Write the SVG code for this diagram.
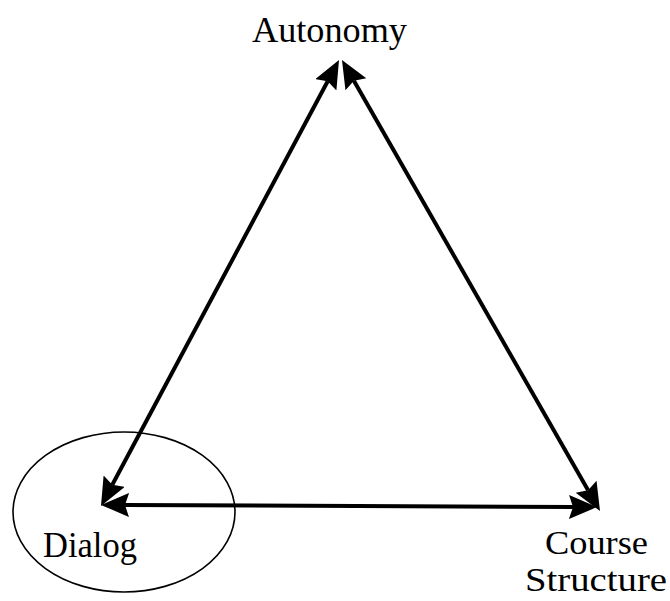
<svg xmlns="http://www.w3.org/2000/svg" width="670" height="601" viewBox="0 0 670 601">
  <style>
    .lbl { font-family: "Liberation Serif", "DejaVu Serif", serif; font-size: 36px; fill: #000; }
    .lbl2 { font-family: "Liberation Serif", "DejaVu Serif", serif; font-size: 34px; fill: #000; }
    .conn { stroke: #000; stroke-width: 4; fill: none; marker-start: url(#ah); marker-end: url(#ah); }
    .oval { fill: none; stroke: #000; stroke-width: 1.6; }
  </style>
  <defs>
    <marker id="ah" markerUnits="userSpaceOnUse" markerWidth="30" markerHeight="26" viewBox="0 0 30 26" refX="4" refY="12" orient="auto-start-reverse">
      <path d="M0,0 L28,12 L0,24 L4,12 z" fill="#000"/>
    </marker>
  </defs>
  <rect width="670" height="601" fill="#fff"/>
  <g id="dialog-oval">
    <ellipse class="oval" cx="124" cy="512" rx="111" ry="80"/>
  </g>
  <g id="connectors">
    <path class="conn" d="M327.7,81.2 L112.3,484.8"/>
    <path class="conn" d="M353.9,80.8 L588.1,490.2"/>
    <path class="conn" d="M125,505 L573,507"/>
  </g>
  <g id="autonomy">
    <text class="lbl" x="252" y="42" textLength="155" lengthAdjust="spacingAndGlyphs">Autonomy</text>
  </g>
  <g id="dialog">
    <text class="lbl" x="43" y="557" textLength="94" lengthAdjust="spacingAndGlyphs">Dialog</text>
  </g>
  <g id="course-structure">
    <text class="lbl2" x="545" y="554" textLength="103" lengthAdjust="spacingAndGlyphs">Course</text>
    <text class="lbl2" x="525" y="591" textLength="142" lengthAdjust="spacingAndGlyphs">Structure</text>
  </g>
</svg>
